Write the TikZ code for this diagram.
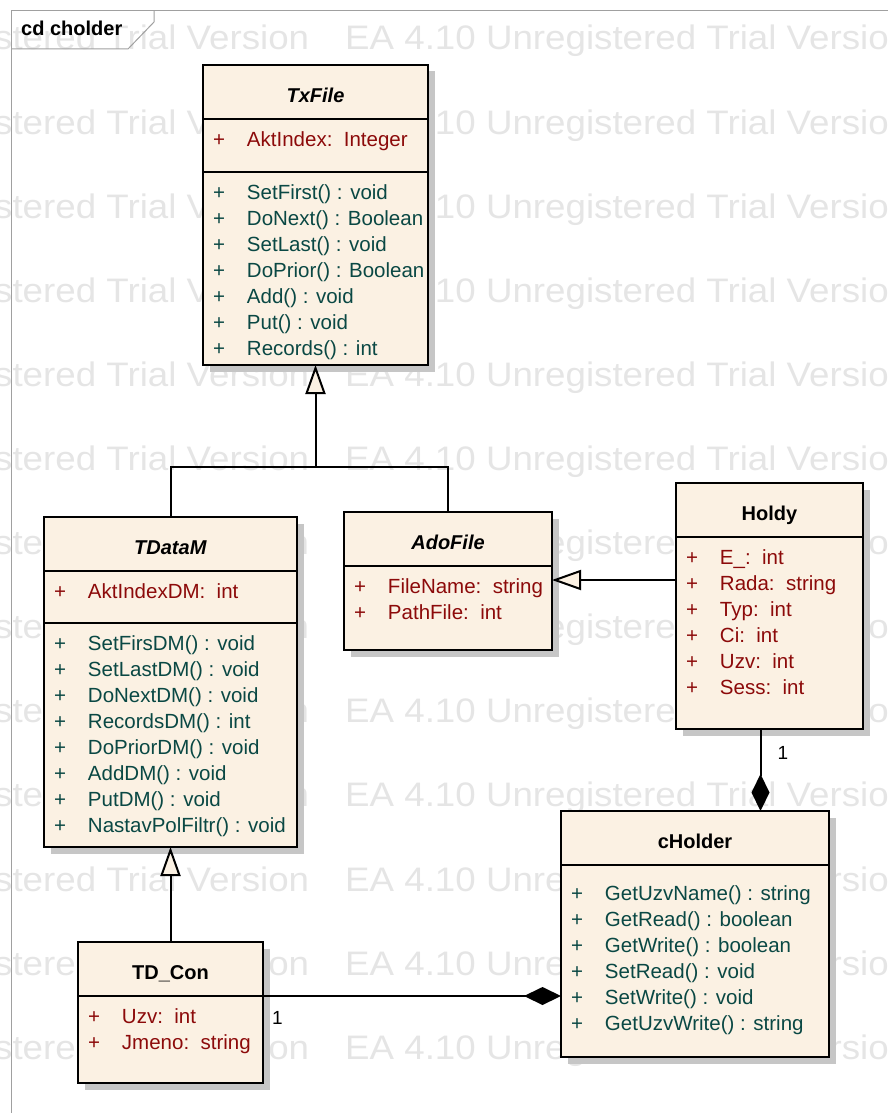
\documentclass[tikz,border=0pt]{standalone}
\usepackage{fontspec}
\setmainfont{Liberation Sans}
\usepackage{tikz}
\usetikzlibrary{arrows.meta, positioning, shadows}
\definecolor{classfill}{RGB}{251,241,227}
\definecolor{attrcol}{RGB}{140,10,10}
\definecolor{opcol}{RGB}{10,72,68}
\definecolor{wmcol}{RGB}{229,229,229}
\definecolor{shadowcol}{RGB}{198,198,198}
\definecolor{framecol}{RGB}{160,160,160}
\tikzstyle{classhead} = [rectangle, draw=black, line width=2pt, fill=classfill, inner sep=0pt, outer sep=0pt, minimum height=54pt, text height=21pt, text depth=0pt, font=\fontsize{20}{24}\selectfont\bfseries, anchor=north west, drop shadow={shadow xshift=6.5pt, shadow yshift=-6.5pt, fill=shadowcol, opacity=1}]
\tikzstyle{classbody} = [rectangle, draw=black, line width=2pt, fill=classfill, inner sep=0pt, outer sep=0pt, font=\fontsize{20.5}{26}\selectfont, drop shadow={shadow xshift=6.5pt, shadow yshift=-6.5pt, fill=shadowcol, opacity=1}]
\tikzstyle{attrpart} = [classbody, text=attrcol]
\tikzstyle{oppart} = [classbody, text=opcol]
\tikzstyle{generalize} = [line width=2pt, -{Triangle[length=29pt, width=20pt, fill=classfill]}]
\tikzstyle{composition} = [line width=2pt, -{Diamond[length=37pt, width=18pt]}]
\tikzstyle{multlabel} = [inner sep=0pt, font=\fontsize{19}{22}\selectfont]
\tikzstyle{watermark} = [inner sep=0pt, anchor=base west, text=wmcol, font=\fontsize{34}{40}\selectfont]
% compartment: height, width, top padding, rows
\newcommand\members[4]{\parbox[t][#1][t]{#2}{\vspace*{#3}%
\begin{tabular}[t]{@{\hspace{10pt}}p{34pt}@{}l@{}}#4\end{tabular}}}
\newcommand\wmtext{\scalebox{1.08}[1]{EA 4.10 Unregistered Trial Version}}

\begin{document}
\begin{tikzpicture}[x=1pt, y=-1pt]
\useasboundingbox (0,0) rectangle (888,1113);
%----------------------------------------------------------------------------
% Watermark and diagram frame
\foreach \row in {0,...,12}
  \foreach \x in {-255,345}
    \node (wm-\row-\x) [watermark] at ({\x}, {50+84.1*\row}) {\wmtext};

\draw [framecol, line width=1pt] (11,1130) -- (11,11) -- (900,11);
\draw [framecol, line width=1pt] (11,49) -- (128,49) -- (154,22) -- (154,11);
\node (frameLabel) [anchor=base west, inner sep=0pt, font=\fontsize{20}{24}\selectfont\bfseries] at (21,36) {cd cholder};

%----------------------------------------------------------------------------
% Placement of class boxes
\node (txfile) [classhead, minimum width=225pt] at (203,65) {\textit{TxFile}};
\node (txfileAttr) [attrpart, below=0pt of txfile]
{\members{53pt}{225pt}{9pt}{+ & AktIndex:~~Integer}};
\node (txfileOps) [oppart, below=0pt of txfileAttr]
{\members{193pt}{225pt}{9pt}{+ & SetFirst() : void\\ + & DoNext() : Boolean\\ + & SetLast() : void\\ + & DoPrior() : Boolean\\ + & Add() : void\\ + & Put() : void\\ + & Records() : int}};

\node (tdatam) [classhead, minimum width=253pt] at (44,517) {\textit{TDataM}};
\node (tdatamAttr) [attrpart, below=0pt of tdatam]
{\members{52pt}{253pt}{9pt}{+ & AktIndexDM:~~int}};
\node (tdatamOps) [oppart, below=0pt of tdatamAttr]
{\members{224pt}{253pt}{9pt}{+ & SetFirsDM() : void\\ + & SetLastDM() : void\\ + & DoNextDM() : void\\ + & RecordsDM() : int\\ + & DoPriorDM() : void\\ + & AddDM() : void\\ + & PutDM() : void\\ + & NastavPolFiltr() : void}};

\node (adofile) [classhead, minimum width=208pt] at (344,512) {\textit{AdoFile}};
\node (adofileAttr) [attrpart, below=0pt of adofile]
{\members{84pt}{208pt}{9pt}{+ & FileName:~~string\\ + & PathFile:~~int}};

\node (holdy) [classhead, minimum width=187pt] at (676,483) {Holdy};
\node (holdyAttr) [attrpart, below=0pt of holdy]
{\members{192pt}{187pt}{9pt}{+ & E\_:~~int\\ + & Rada:~~string\\ + & Typ:~~int\\ + & Ci:~~int\\ + & Uzv:~~int\\ + & Sess:~~int}};

\node (cholder) [classhead, minimum width=268pt] at (561,811) {cHolder};
\node (cholderOps) [oppart, below=0pt of cholder]
{\members{192pt}{268pt}{17pt}{+ & GetUzvName() : string\\ + & GetRead() : boolean\\ + & GetWrite() : boolean\\ + & SetRead() : void\\ + & SetWrite() : void\\ + & GetUzvWrite() : string}};

\node (tdcon) [classhead, minimum width=185pt] at (78,942) {TD\_Con};
\node (tdconAttr) [attrpart, below=0pt of tdcon]
{\members{87pt}{185pt}{9pt}{+ & Uzv:~~int\\ + & Jmeno:~~string}};

%----------------------------------------------------------------------------
% Generalizations
\coordinate (fork) at ([yshift=-102pt]txfileOps.south);
\draw [line width=2pt] (tdatam.north) |- (fork) -| (adofile.north);
\draw [generalize] (fork) -- (txfileOps.south);
\draw [generalize] (tdcon.north) -- (tdatamOps.south);

\coordinate (holdyGen) at ([yshift=-43pt]holdyAttr.north west);
\draw [generalize] (holdyGen) -- (holdyGen -| adofileAttr.east);

%----------------------------------------------------------------------------
% Compositions
\coordinate (holdyLink) at ([xshift=-9pt]holdyAttr.south);
\draw [composition] (holdyLink) -- (holdyLink |- cholder.north)
  node [multlabel, pos=0, anchor=north west, xshift=16pt, yshift=-16pt] {1};
\draw [composition] (tdconAttr.north east) -- (tdconAttr.north east -| cholderOps.west)
  node [multlabel, pos=0, anchor=north west, xshift=8pt, yshift=-14pt] {1};
\end{tikzpicture}
\end{document}
